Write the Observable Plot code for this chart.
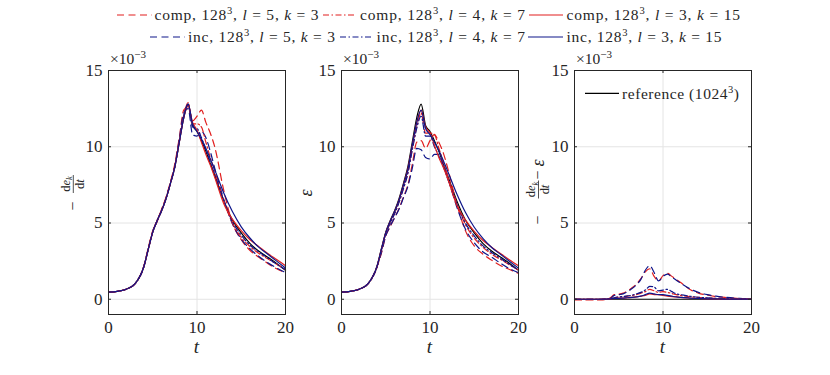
<!DOCTYPE html>
<html><head><meta charset="utf-8">
<script src="https://cdn.jsdelivr.net/npm/d3@7"></script>
<script src="https://cdn.jsdelivr.net/npm/@observablehq/plot@0.6"></script>
<style>
body{margin:0;background:#fff;}
#chart{position:relative;width:830px;height:375px;font-family:"Liberation Serif",serif;overflow:hidden;}
#chart svg{position:absolute;}
#overlay{left:0;top:0;pointer-events:none;}
#overlay text{white-space:pre;font-family:"Liberation Serif",serif;fill:#262626;}
</style></head><body><div id="chart"></div>
<script>
// time samples
const T = [0,1,2,3,4,4.5,5,5.5,6,6.5,7,7.5,8,8.5,9,9.5,10,10.5,11,11.5,12,13,14,15,16,17,18,19,20];
// values in units of 1e-3
// reference (1024^3): -dEk/dt and epsilon coincide
const refDiss = [0.47,0.52,0.66,1.02,2.15,3.3,4.4,5.15,5.8,6.6,7.6,8.7,10.3,11.9,12.8,11.4,11.0,10.4,9.7,8.9,8.1,6.5,5.2,4.35,3.65,3.15,2.75,2.35,1.9];
const refDiff = [0,0,0,0,0,0,0,0,0,0,0,0,0,0,0,0,0,0,0,0,0,0,0,0,0,0,0,0,0];
// -dEk/dt
const comp53_dE = [0.47,0.52,0.66,1.02,2.2,3.4,4.5,5.1,5.9,6.7,7.7,8.9,10.6,12.4,12.6,11.7,12.0,12.4,11.6,10.9,10.0,7.2,5.0,3.9,3.2,2.75,2.35,2.0,1.75];
const inc53_dE  = [0.47,0.52,0.66,1.02,2.15,3.3,4.45,5.15,5.85,6.6,7.6,8.7,10.5,12.2,12.5,10.8,10.7,11.0,10.6,9.7,8.6,6.6,4.95,3.95,3.3,2.8,2.4,2.05,1.75];
const comp47_dE = [0.47,0.52,0.66,1.02,2.15,3.3,4.45,5.2,5.85,6.65,7.65,8.75,10.4,12.0,12.9,11.5,11.5,11.3,10.3,9.3,8.4,6.5,5.0,4.05,3.45,3.0,2.65,2.3,1.95];
const inc47_dE  = [0.47,0.52,0.66,1.02,2.15,3.3,4.4,5.15,5.8,6.6,7.6,8.7,10.35,12.0,12.8,11.3,11.2,10.6,9.8,9.0,8.2,6.5,5.1,4.2,3.55,3.1,2.7,2.3,1.95];
const comp315_dE = [0.47,0.52,0.66,1.02,2.15,3.3,4.4,5.15,5.8,6.6,7.6,8.7,10.3,11.9,12.7,11.6,11.1,10.3,9.5,8.8,8.0,6.3,5.25,4.5,3.9,3.45,3.0,2.6,2.2];
const inc315_dE  = [0.47,0.52,0.66,1.02,2.15,3.3,4.4,5.15,5.8,6.6,7.6,8.7,10.3,11.9,12.8,11.5,11.0,10.5,9.9,9.2,8.5,7.0,5.75,4.75,4.0,3.4,2.95,2.5,2.05];
// epsilon
const comp53_eps = [0.47,0.52,0.66,1.02,2.1,3.0,4.15,4.75,5.35,5.95,6.7,7.5,8.85,10.3,10.4,9.9,10.4,10.8,10.3,9.6,8.6,6.3,4.5,3.5,2.95,2.55,2.2,1.95,1.7];
const inc53_eps  = [0.47,0.52,0.66,1.02,2.13,3.05,4.15,4.8,5.35,5.9,6.65,7.4,8.6,9.9,9.8,9.3,9.2,9.5,9.5,8.8,8.0,6.1,4.6,3.7,3.1,2.75,2.35,2.0,1.75];
const comp47_eps = [0.47,0.52,0.66,1.02,2.1,3.2,4.3,5.0,5.65,6.4,7.3,8.3,9.85,11.3,12.2,10.9,10.9,10.8,9.9,9.0,8.1,6.3,4.9,4.0,3.4,2.95,2.6,2.25,1.92];
const inc47_eps  = [0.47,0.52,0.66,1.02,2.1,3.2,4.3,5.0,5.6,6.35,7.25,8.25,9.8,11.2,12.0,10.7,10.7,10.0,9.4,8.7,7.9,6.3,5.0,4.15,3.5,3.05,2.68,2.28,1.93];
const comp315_eps = [0.47,0.52,0.66,1.02,2.12,3.25,4.35,5.1,5.75,6.5,7.5,8.55,10.1,11.6,12.4,11.3,10.9,10.1,9.3,8.65,7.9,6.2,5.2,4.45,3.85,3.4,2.98,2.58,2.2];
const inc315_eps  = [0.47,0.52,0.66,1.02,2.12,3.25,4.35,5.1,5.75,6.5,7.5,8.5,10.1,11.6,12.4,11.2,10.8,10.3,9.75,9.1,8.4,6.95,5.7,4.72,3.98,3.38,2.93,2.48,2.04];
// -dEk/dt - epsilon
const comp53_diff = [-0.05,-0.05,-0.05,-0.04,0.08,0.3,0.33,0.4,0.55,0.75,1.0,1.35,1.8,2.0,1.5,1.2,1.55,1.7,1.5,1.3,1.1,0.65,0.4,0.27,0.18,0.12,0.08,0.04,0.01];
const inc53_diff  = [0,0,0,0,0.05,0.25,0.3,0.35,0.5,0.7,0.95,1.3,1.9,2.2,1.75,1.2,1.5,1.65,1.45,1.25,1.05,0.7,0.45,0.3,0.2,0.13,0.08,0.05,0.02];
const comp47_diff = [0,0,0,0,0.03,0.1,0.15,0.17,0.2,0.25,0.3,0.4,0.5,0.65,0.55,0.45,0.5,0.45,0.38,0.3,0.25,0.18,0.12,0.08,0.05,0.03,0.02,0.01,0];
const inc47_diff  = [0,0,0,0,0.03,0.1,0.15,0.18,0.22,0.27,0.35,0.45,0.6,0.85,0.8,0.55,0.6,0.65,0.5,0.35,0.3,0.2,0.13,0.09,0.06,0.04,0.03,0.02,0.01];
const comp315_diff = [0,0,0,0,0.02,0.05,0.07,0.08,0.1,0.12,0.15,0.2,0.25,0.35,0.3,0.3,0.25,0.2,0.17,0.15,0.12,0.08,0.05,0.03,0.02,0.01,0.01,0,0];
const inc315_diff  = [0,0,0,0,0.02,0.05,0.06,0.08,0.1,0.12,0.15,0.2,0.3,0.4,0.35,0.3,0.3,0.25,0.2,0.15,0.12,0.08,0.05,0.03,0.02,0.01,0.01,0,0];

// legend text pieces
const legendNames = ["comp","inc","comp","inc","comp","inc"];
const legendRes = 128;
const legendL = [5,5,4,4,3,3];
const legendK = [3,3,7,7,15,15];
const refLabel = "reference (1024";
const xTicks = [0,10,20];
const yTicks = [0,5,10,15];

const FONT = '"Liberation Serif",serif';
const RED = "#e11f1f", BLUE = "#0e168a";
const DASH = "7,4.5", DASHDOT = "6,2.5,1.5,2.5";
const series = [
  {color:"#000", dash:null, dE:refDiss, eps:refDiss, diff:refDiff},
  {color:RED, dash:DASH, dE:comp53_dE, eps:comp53_eps, diff:comp53_diff},
  {color:BLUE, dash:DASH, dE:inc53_dE, eps:inc53_eps, diff:inc53_diff},
  {color:RED, dash:DASHDOT, dE:comp47_dE, eps:comp47_eps, diff:comp47_diff},
  {color:BLUE, dash:DASHDOT, dE:inc47_dE, eps:inc47_eps, diff:inc47_diff},
  {color:RED, dash:null, dE:comp315_dE, eps:comp315_eps, diff:comp315_diff},
  {color:BLUE, dash:null, dE:inc315_dE, eps:inc315_eps, diff:inc315_diff}
];

const FW = 177, FH = 244, ML = 45, MR = 12, MT = 15, MB = 50;
const chart = document.getElementById("chart");
const frameLefts = [108, 341, 574];
const fields = ["dE","eps","diff"];

fields.forEach((f, pi) => {
  const marks = [
    Plot.gridX(xTicks, {stroke:"#e4e4e4", strokeOpacity:1}),
    Plot.gridY(yTicks, {stroke:"#e4e4e4", strokeOpacity:1}),
    ...series.map(s => Plot.line(s[f], {x:(d,i)=>T[i], y:d=>d, stroke:s.color, strokeWidth:1.2, strokeDasharray:s.dash, curve:"monotone-x"})),
    Plot.tickX(xTicks, {x:d=>d, stroke:"#262626", insetTop:FH-3}),
    Plot.tickX(xTicks, {x:d=>d, stroke:"#262626", insetBottom:FH-3}),
    Plot.tickY(yTicks, {y:d=>d, stroke:"#262626", insetRight:FW-3}),
    Plot.tickY(yTicks, {y:d=>d, stroke:"#262626", insetLeft:FW-3}),
    Plot.axisX(xTicks, {anchor:"bottom", tickSize:0, tickPadding:6, label:null, fill:"#262626", fontSize:17, fontFamily:FONT}),
    Plot.axisY(yTicks, {anchor:"left", tickSize:0, tickPadding:6, label:null, fill:"#262626", fontSize:17, fontFamily:FONT}),
    Plot.frame({stroke:"#262626", strokeWidth:1})
  ];
  const svg = Plot.plot({
    width: ML+FW+MR, height: MT+FH+MB,
    marginLeft: ML, marginRight: MR, marginTop: MT, marginBottom: MB,
    x: {domain:[0,20]}, y: {domain:[-1,15]},
    style: {fontFamily:FONT, fontSize:"17px", background:"transparent", color:"#262626", overflow:"visible"},
    marks
  });
  svg.style.left = (frameLefts[pi]-ML)+"px";
  svg.style.top = (70-MT)+"px";
  chart.appendChild(svg);
});

// overlay: legend, labels
const ov = d3.select("#chart").append("svg").attr("id","overlay").attr("width",830).attr("height",375);
const legendLayout = [
  {x1:117, x2:152, tx:154.5, tw:164, y:15},
  {x1:150, x2:185, tx:188, tw:147, y:37},
  {x1:323, x2:355, tx:360, tw:165, y:15},
  {x1:340, x2:373, tx:376.5, tw:148.5, y:37},
  {x1:529, x2:563, tx:566.5, tw:173.5, y:15},
  {x1:528, x2:563, tx:566.5, tw:155, y:37}
];
legendLayout.forEach((L,i)=>{
  const s = series[i+1];
  ov.append("line").attr("x1",L.x1).attr("x2",L.x2).attr("y1",L.y).attr("y2",L.y)
    .attr("stroke",s.color).attr("stroke-width",1.2).attr("stroke-dasharray",s.dash);
  const t = ov.append("text").attr("x",L.tx).attr("y",L.y+5).attr("font-size",15.5)
    .attr("textLength",L.tw).attr("lengthAdjust","spacing");
  t.append("tspan").text(`${legendNames[i]}, ${legendRes}`);
  t.append("tspan").attr("font-size",10.5).attr("dy",-6).text("3");
  t.append("tspan").attr("dy",6).text(", ");
  t.append("tspan").attr("font-style","italic").text("l");
  t.append("tspan").text(` = ${legendL[i]}, `);
  t.append("tspan").attr("font-style","italic").text("k");
  t.append("tspan").text(` = ${legendK[i]}`);
});
// panel 3 legend
ov.append("line").attr("x1",585).attr("x2",619).attr("y1",93.3).attr("y2",93.3).attr("stroke","#000").attr("stroke-width",1.2);
{
  const t = ov.append("text").attr("x",622).attr("y",98.5).attr("font-size",15.5).attr("textLength",117).attr("lengthAdjust","spacing");
  t.append("tspan").text(refLabel);
  t.append("tspan").attr("font-size",10.5).attr("dy",-6).text("3");
  t.append("tspan").attr("dy",6).text(")");
}
// x10^-3 and t labels
frameLefts.forEach(fl => {
  const t = ov.append("text").attr("x",fl+2).attr("y",64).attr("font-size",15.5);
  t.append("tspan").text("×10");
  t.append("tspan").attr("font-size",11).attr("dy",-6).text("−3");
  ov.append("text").attr("x",fl+FW/2).attr("y",353).attr("font-size",19).attr("font-style","italic").attr("text-anchor","middle").text("t");
});
// y labels
function fraction(g, cu, yNum, yDen, half){
  const n = g.append("text").attr("x",cu).attr("y",yNum).attr("font-size",12.5).attr("text-anchor","middle");
  n.append("tspan").text("d");
  n.append("tspan").attr("font-style","italic").text("e");
  n.append("tspan").attr("font-size",8.5).attr("font-style","italic").attr("dy",2.5).text("k");
  g.append("line").attr("x1",cu-half).attr("x2",cu+half).attr("y1",0).attr("y2",0).attr("stroke","#262626").attr("stroke-width",0.8);
  const d = g.append("text").attr("x",cu).attr("y",yDen).attr("font-size",12.5).attr("text-anchor","middle");
  d.append("tspan").text("d");
  d.append("tspan").attr("font-style","italic").text("t");
}
{
  const g = ov.append("g").attr("transform","translate(73.3,192) rotate(-90)");
  g.append("text").attr("x",-14).attr("y",4.5).attr("font-size",16).attr("text-anchor","middle").text("−");
  fraction(g, 8, -3.5, 10.5, 9);
}
{
  const g = ov.append("g").attr("transform","translate(307,193) rotate(-90)");
  g.append("text").attr("x",0).attr("y",5).attr("font-size",18).attr("font-style","italic").attr("text-anchor","middle").text("ε");
}
{
  const g = ov.append("g").attr("transform","translate(538.5,193) rotate(-90)");
  g.append("text").attr("x",-27).attr("y",4.5).attr("font-size",16).attr("text-anchor","middle").text("−");
  fraction(g, 3.5, -3.5, 10.5, 9);
  g.append("text").attr("x",18).attr("y",4.5).attr("font-size",16).attr("text-anchor","middle").text("−");
  g.append("text").attr("x",30).attr("y",5).attr("font-size",18).attr("font-style","italic").attr("text-anchor","middle").text("ε");
}
</script></body></html>
